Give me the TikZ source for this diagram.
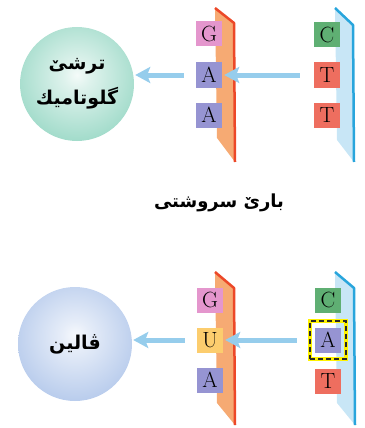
\documentclass[tikz,border=0pt]{standalone}
\usepackage{fontspec}
\usetikzlibrary{arrows.meta}
\TeXXeTstate=1
\newfontfamily\kurdfont[Script=Arabic]{DejaVu Sans}
\definecolor{glutam}{RGB}{145,213,193}
\definecolor{valin}{RGB}{172,195,233}
\definecolor{nucG}{RGB}{228,150,205}
\definecolor{nucA}{RGB}{150,148,210}
\definecolor{nucC}{RGB}{95,175,115}
\definecolor{nucT}{RGB}{238,110,95}
\definecolor{nucU}{RGB}{252,205,110}
\definecolor{rnaface}{RGB}{246,170,115}
\definecolor{rnaedge}{RGB}{236,72,40}
\definecolor{dnaface}{RGB}{200,230,246}
\definecolor{dnaedge}{RGB}{40,165,220}
\definecolor{flowblue}{RGB}{150,205,236}
% soft white glow in the middle of the amino acid balls
\pgfdeclareradialshading{gluglow}{\pgfpoint{0bp}{4bp}}{%
  color(0bp)=(glutam!10); color(6bp)=(glutam!30); color(34bp)=(glutam); color(100bp)=(glutam)}
\pgfdeclareradialshading{valglow}{\pgfpoint{0bp}{4bp}}{%
  color(0bp)=(valin!10); color(6bp)=(valin!30); color(34bp)=(valin); color(100bp)=(valin)}
\tikzset{
  nuc/.style   = {minimum width=26pt, minimum height=25pt, inner sep=0pt,
                  font=\fontsize{22}{22}\selectfont},
  nucg/.style  = {nuc, fill=nucG},
  nuca/.style  = {nuc, fill=nucA},
  nucc/.style  = {nuc, fill=nucC},
  nuct/.style  = {nuc, fill=nucT},
  nucu/.style  = {nuc, fill=nucU},
  amino/.style = {circle, minimum size=114pt, inner sep=0pt, align=center,
                  font=\kurdfont\bfseries\fontsize{19}{35}\selectfont},
  rnastrand/.style = {fill=rnaface},
  dnastrand/.style = {fill=dnaface},
  rnarim/.style    = {draw=rnaedge, line width=2.5pt, line join=round},
  dnarim/.style    = {draw=dnaedge, line width=2.5pt, line join=round},
  flow/.style  = {draw=flowblue, line width=5pt,
                  -{Stealth[width=16pt, length=15pt, inset=3pt]}},
  mutbox/.style = {minimum width=36pt, minimum height=38pt, inner sep=0pt,
                   draw=black!85, line width=2.6pt, dash pattern=on 5pt off 3pt,
                   preaction={draw=yellow, line width=3.6pt, solid}},
  caption/.style = {font=\kurdfont\bfseries\fontsize{18}{18}\selectfont},
}

\begin{document}
\begin{tikzpicture}[x=1pt, y=-1pt]
    \useasboundingbox (0,0) rectangle (364,428);

    % normal state (top)
    \fill[rnastrand] (215,8) -- (234,23) -- (235,162) -- (217,138) -- cycle;
    \draw[rnarim] (215,8) -- (234,23) -- (235,162);
    \fill[dnastrand] (335,8) -- (353,25) -- (354,162) -- (337,140) -- cycle;
    \draw[dnarim] (335,8) -- (353,25) -- (354,162);

    \node[amino, shading=gluglow] (glu) at (77,84)
        {\beginR ترشێ\endR\\\beginR گلوتامیك\endR};

    \node[nucg] (g1) at (209,34)  {G};
    \node[nuca] (a1) at (209,75)  {A};
    \node[nuca] (a2) at (209,115) {A};

    \node[nucc] (c1) at (327,35)  {C};
    \node[nuct] (t1) at (327,75)  {T};
    \node[nuct] (t2) at (327,115) {T};

    \draw[flow, shorten <=14pt, shorten >=2pt] (t1.west) -- (a1.east |- t1.west);
    \draw[flow, shorten <=12pt, shorten >=1pt] (a1.west) -- (glu.east |- a1.west);

    \node[caption] (cap) at (219,203) {\beginR بارێ سروشتی\endR};

    % mutated state (bottom)
    \fill[rnastrand] (215,272) -- (234,288) -- (235,425) -- (217,403) -- cycle;
    \draw[rnarim] (215,272) -- (234,288) -- (235,425);
    \fill[dnastrand] (335,272) -- (354,288) -- (355,425) -- (337,403) -- cycle;
    \draw[dnarim] (335,272) -- (354,288) -- (355,425);

    \node[amino, shading=valglow] (val) at (75,344)
        {\beginR ڤالین\endR};

    \node[nucg] (g2) at (210,300) {G};
    \node[nucu] (u2) at (210,340) {U};
    \node[nuca] (a3) at (210,380) {A};

    \node[nucc] (c2) at (328,300) {C};
    \node[mutbox] (mut) at (328,340) {};
    \node[nuca] (a4) at (328,340) {A};
    \node[nuct] (t3) at (328,381) {T};

    \draw[flow, shorten <=12pt, shorten >=2pt] (mut.west) -- (u2.east |- mut.west);
    \draw[flow, shorten <=12pt, shorten >=1pt] (u2.west) -- (val.east |- u2.west);
\end{tikzpicture}
\end{document}
